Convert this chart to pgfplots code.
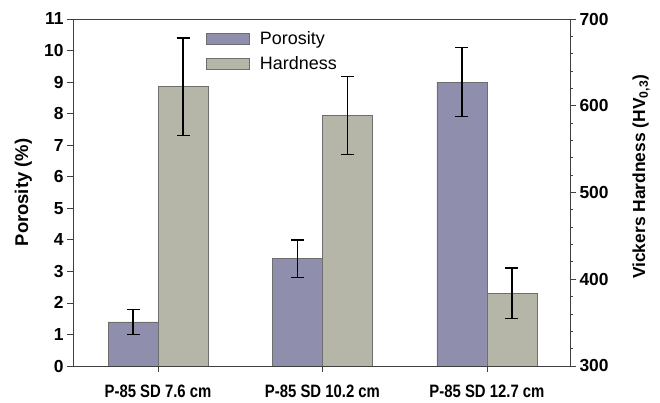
\documentclass[border=0pt]{standalone}
\usepackage{pgfplots}
\pgfplotsset{compat=1.18}
\usepackage{fontspec}
\setmainfont{Liberation Sans}

\definecolor{poro}{HTML}{8F8FAD}
\definecolor{hard}{HTML}{B6B6A8}
\definecolor{edge}{HTML}{6E6E6E}

\pgfplotsset{
  commonax/.style={
    scale only axis, width=497bp, height=347bp,
    xmin=-0.517, xmax=2.505,
    /pgf/number format/assume math mode=true,
    tick label style={font=\fontsize{17.5}{17.5}\selectfont\bfseries},
    axis line style={line width=0.9bp, draw=black!75},
    major tick length=6bp, minor tick length=3bp,
    tick style={line width=0.8bp, draw=black!75},
    tick align=outside,
  },
  errstyle/.style={
    error bars/y dir=both, error bars/y explicit,
    error bars/error bar style={line width=1.4bp, black},
    error bars/error mark options={rotate=90, mark size=6.5bp, line width=1.4bp, black},
  },
}

% x: category index -/+ half a bar (25bp = 0.152 units)
\pgfplotstableread{
x      y    e
-0.152 1.4  0.4
0.848  3.4  0.6
1.848  9.0  1.1
}\porosity
\pgfplotstableread{
x      y    e
0.152  622  56
1.152  589  45
2.152  384  29
}\hardness

\begin{document}
\begin{tikzpicture}
\begin{axis}[
  commonax, name=left,
  ymin=0, ymax=11, ytick={0,1,...,11},
  ytick pos=left,
  xtick={0,1,2},
  xtick pos=bottom,
  xticklabels={\scalebox{0.83}[1]{P-85 SD 7.6 cm}, \scalebox{0.83}[1]{P-85 SD 10.2 cm}, \scalebox{0.83}[1]{P-85 SD 12.7 cm}},
  xticklabel style={font=\fontsize{18}{18}\selectfont\bfseries, yshift=-9bp},
  every axis y label/.style={at={(axis description cs:-0.1,0.5)}, anchor=center, rotate=90,
    font=\fontsize{18.5}{18.5}\selectfont\bfseries},
  ylabel={Porosity (\%)},
  legend style={at={(axis description cs:0.262,0.975)}, anchor=north west, draw=none, fill=none,
    font=\fontsize{18}{18}\selectfont, row sep=6bp},
  legend cell align=left,
  legend image code/.code={\draw[#1] (0bp,-5.5bp) rectangle (43bp,5.5bp); \path (51bp,0bp);},
]
\addplot[ybar, bar width=50bp, fill=poro, draw=edge, line width=0.6bp, errstyle]
  table[x=x, y=y, y error=e] {\porosity};
\addlegendentry{Porosity}
\addlegendimage{fill=hard, draw=edge, line width=0.6bp}
\addlegendentry{Hardness}
\end{axis}

\begin{axis}[
  commonax,
  ymin=300, ymax=700, ytick={300,400,...,700},
  minor y tick num=4,
  axis y line*=right,
  axis x line=none,
  every axis y label/.style={at={(axis description cs:1.143,0.545)}, anchor=center, rotate=90,
    font=\fontsize{17.5}{17.5}\selectfont\bfseries},
  ylabel={Vickers Hardness (HV\textsubscript{0,3})},
]
\addplot[ybar, bar width=50bp, fill=hard, draw=edge, line width=0.6bp, errstyle]
  table[x=x, y=y, y error=e] {\hardness};
\end{axis}
\path ([shift={(-73bp,-37bp)}]left.south west) rectangle ([shift={(90bp,19bp)}]left.north east);
\end{tikzpicture}
\end{document}
